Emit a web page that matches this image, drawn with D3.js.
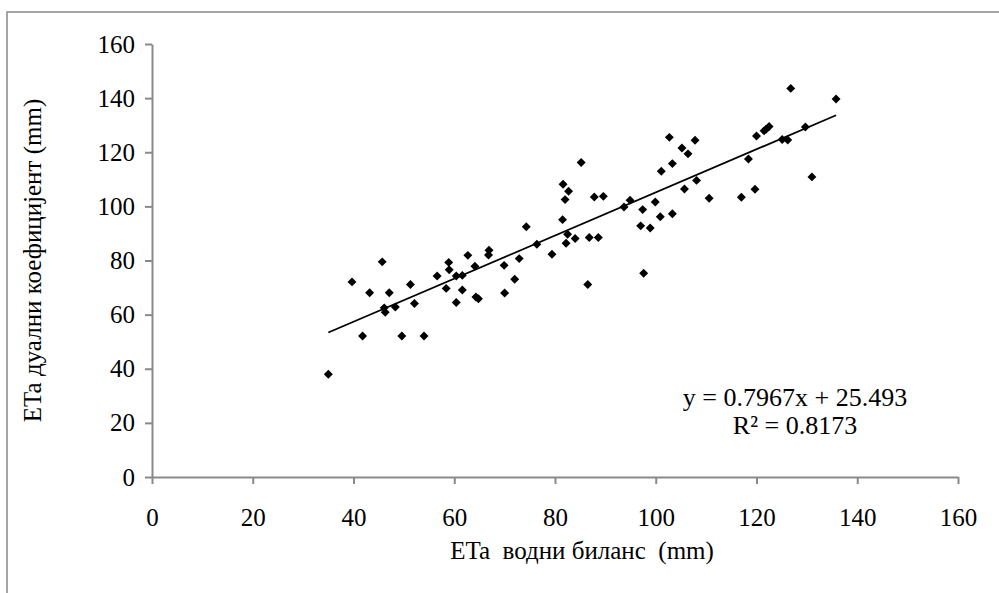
<!DOCTYPE html>
<html>
<head>
<meta charset="utf-8">
<script src="https://cdn.jsdelivr.net/npm/d3@7"></script>
<style>
  body { margin: 0; background: #ffffff; }
  text { font-family: "Liberation Serif", "Times New Roman", serif; fill: #000000; }
</style>
</head>
<body>
<div id="chart"></div>
<script>
// ETa water balance (x) vs ETa dual coefficient (y), mm
const xValues = [35.0, 39.7, 41.8, 43.2, 45.7, 46.1, 46.3, 47.1, 48.3, 49.6,
  51.3, 52.1, 54.0, 56.6, 58.4, 58.9, 59.0, 60.4, 60.4, 61.6,
  61.6, 62.7, 64.1, 64.3, 64.8, 66.9, 66.8, 69.9, 70.0, 72.0,
  72.9, 74.3, 76.4, 79.4, 81.5, 81.6, 82.7, 82.0, 82.5, 82.2,
  84.0, 85.2, 86.5, 86.8, 88.6, 87.8, 89.6, 93.7, 94.9, 97.4,
  97.0, 98.9, 97.6, 99.9, 100.9, 103.3, 101.1, 103.3, 105.7, 108.1,
  110.6, 105.2, 106.4, 107.8, 102.7, 117.0, 119.7, 118.4, 120.0, 121.5,
  121.9, 122.5, 125.1, 126.2, 126.8, 129.7, 131.0, 135.8];
const yValues = [38.0, 72.1, 52.1, 68.1, 79.5, 62.5, 60.9, 68.1, 62.8, 52.1,
  71.1, 64.1, 52.1, 74.3, 69.7, 79.3, 76.6, 74.3, 64.5, 74.5,
  69.1, 81.9, 77.9, 66.5, 65.9, 83.8, 82.0, 78.2, 68.0, 73.1,
  80.7, 92.5, 86.0, 82.3, 95.1, 108.2, 105.6, 102.5, 89.7, 86.4,
  88.1, 116.2, 71.1, 88.5, 88.5, 103.5, 103.7, 99.8, 102.3, 98.8,
  92.8, 92.0, 75.3, 101.6, 96.2, 97.3, 113.0, 115.8, 106.4, 109.6,
  103.0, 121.6, 119.4, 124.4, 125.5, 103.4, 106.3, 117.5, 126.0, 127.9,
  128.5, 129.5, 124.7, 124.5, 143.6, 129.3, 110.9, 139.7];

const xTicks = [0, 20, 40, 60, 80, 100, 120, 140, 160];
const yTicks = [0, 20, 40, 60, 80, 100, 120, 140, 160];

// linear trendline from the chart label
const slope = 0.7967;
const intercept = 25.493;
const eqLines = ['y = 0.7967x + 25.493', 'R² = 0.8173'];

const xTitle = 'ETa  водни биланс  (mm)';
const yTitle = 'ETa дуални коефицијент (mm)';

const points = xValues.map((x, i) => ({ x: x, y: yValues[i] }));

const W = 999, H = 593;
const margin = { top: 44, right: 41, bottom: 116, left: 152 };
const width = W - margin.left - margin.right;
const height = H - margin.top - margin.bottom;
const axisColor = '#898989';
const fontSize = '25px';

const svg = d3.select('#chart')
  .append('svg')
    .attr('width', W)
    .attr('height', H);

// outer chart border (runs off the right and bottom)
svg.append('rect')
  .attr('x', 7)
  .attr('y', 12)
  .attr('width', W + 20)
  .attr('height', H + 20)
  .style('fill', 'none')
  .style('stroke', axisColor)
  .style('stroke-width', 1.5);

const g = svg.append('g')
  .attr('transform', 'translate(' + margin.left + ',' + margin.top + ')');

const x = d3.scaleLinear().domain([0, 160]).range([0, width]);
const y = d3.scaleLinear().domain([0, 160]).range([height, 0]);

// X axis
const xAxis = g.append('g')
  .attr('transform', 'translate(0,' + height + ')')
  .call(d3.axisBottom(x).tickValues(xTicks).tickSizeInner(7).tickSizeOuter(0).tickPadding(24));

// Y axis
const yAxis = g.append('g')
  .call(d3.axisLeft(y).tickValues(yTicks).tickSizeInner(7).tickSizeOuter(0).tickPadding(10));

[xAxis, yAxis].forEach(a => {
  a.select('.domain').style('stroke', axisColor).style('stroke-width', 2);
  a.selectAll('.tick line').style('stroke', axisColor).style('stroke-width', 2);
  a.selectAll('.tick text')
    .style('font-family', '"Liberation Serif", "Times New Roman", serif')
    .style('font-size', fontSize)
    .style('fill', '#000000');
});

// trendline over the data range
const xExt = d3.extent(xValues);
g.append('line')
  .attr('x1', x(xExt[0]))
  .attr('y1', y(slope * xExt[0] + intercept))
  .attr('x2', x(xExt[1]))
  .attr('y2', y(slope * xExt[1] + intercept))
  .style('stroke', '#000000')
  .style('stroke-width', 1.75);

// diamond markers
const diamond = d3.symbol().type(d3.symbolSquare).size(40);
g.append('g')
  .selectAll('path')
  .data(points)
  .enter()
  .append('path')
    .attr('d', diamond)
    .attr('transform', d => 'translate(' + x(d.x) + ',' + y(d.y) + ') rotate(45)')
    .style('fill', '#000000');

// equation label
g.append('g')
  .selectAll('text')
  .data(eqLines)
  .enter()
  .append('text')
    .attr('x', 643)
    .attr('y', (d, i) => 362 + i * 28)
    .attr('text-anchor', 'middle')
    .style('font-size', '26px')
    .text(d => d);

// axis titles
svg.append('text')
  .attr('x', 582)
  .attr('y', 559)
  .attr('text-anchor', 'middle')
  .style('font-size', fontSize)
  .style('white-space', 'pre')
  .text(xTitle);

svg.append('text')
  .attr('transform', 'translate(41,' + (margin.top + height / 2) + ') rotate(-90)')
  .attr('text-anchor', 'middle')
  .style('font-size', fontSize)
  .style('fill', '#000000')
  .text(yTitle);
</script>
</body>
</html>
